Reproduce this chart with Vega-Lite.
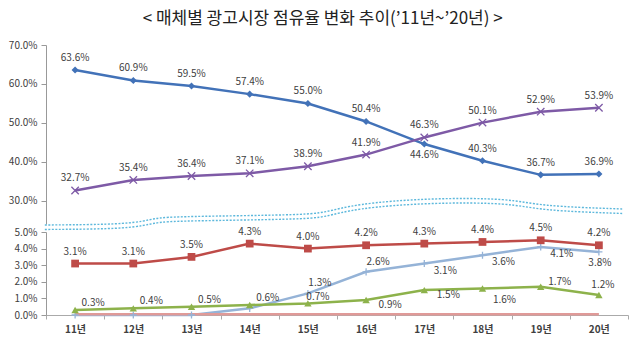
{
  "$schema": "https://vega.github.io/schema/vega-lite/v6.json",
  "background": "white",
  "padding": {"left": 8, "right": 6, "top": 10, "bottom": 4},
  "title": {
    "text": "< 매체별 광고시장 점유율 변화 추이(’11년~’20년) >",
    "font": "Noto Sans CJK KR",
    "fontSize": 17,
    "fontWeight": "normal",
    "color": "#222222",
    "anchor": "middle",
    "dx": -10,
    "offset": 12
  },
  "config": {
    "view": {"stroke": null},
    "axis": {
      "labelFont": "Noto Sans CJK KR",
      "labelFontSize": 10,
      "labelColor": "#404040",
      "domainColor": "#999999",
      "tickColor": "#999999",
      "grid": false,
      "title": null
    },
    "text": {"font": "Noto Sans CJK KR", "fontSize": 10, "color": "#404040"}
  },
  "bounds": "flush",
  "spacing": 8,
  "datasets": {
    "s": [
      {"year": 11, "series": "b", "value": 63.6}, {"year": 12, "series": "b", "value": 60.9}, {"year": 13, "series": "b", "value": 59.5}, {"year": 14, "series": "b", "value": 57.4}, {"year": 15, "series": "b", "value": 55.0},
      {"year": 16, "series": "b", "value": 50.4}, {"year": 17, "series": "b", "value": 44.6}, {"year": 18, "series": "b", "value": 40.3}, {"year": 19, "series": "b", "value": 36.7}, {"year": 20, "series": "b", "value": 36.9},
      {"year": 11, "series": "p", "value": 32.7}, {"year": 12, "series": "p", "value": 35.4}, {"year": 13, "series": "p", "value": 36.4}, {"year": 14, "series": "p", "value": 37.1}, {"year": 15, "series": "p", "value": 38.9},
      {"year": 16, "series": "p", "value": 41.9}, {"year": 17, "series": "p", "value": 46.3}, {"year": 18, "series": "p", "value": 50.1}, {"year": 19, "series": "p", "value": 52.9}, {"year": 20, "series": "p", "value": 53.9},
      {"year": 11, "series": "r", "value": 3.1}, {"year": 12, "series": "r", "value": 3.1}, {"year": 13, "series": "r", "value": 3.5}, {"year": 14, "series": "r", "value": 4.3}, {"year": 15, "series": "r", "value": 4.0},
      {"year": 16, "series": "r", "value": 4.2}, {"year": 17, "series": "r", "value": 4.3}, {"year": 18, "series": "r", "value": 4.4}, {"year": 19, "series": "r", "value": 4.5}, {"year": 20, "series": "r", "value": 4.2},
      {"year": 11, "series": "c", "value": 0.0}, {"year": 12, "series": "c", "value": 0.0}, {"year": 13, "series": "c", "value": 0.0}, {"year": 14, "series": "c", "value": 0.4}, {"year": 15, "series": "c", "value": 1.3},
      {"year": 16, "series": "c", "value": 2.6}, {"year": 17, "series": "c", "value": 3.1}, {"year": 18, "series": "c", "value": 3.6}, {"year": 19, "series": "c", "value": 4.1}, {"year": 20, "series": "c", "value": 3.8},
      {"year": 11, "series": "g", "value": 0.3}, {"year": 12, "series": "g", "value": 0.4}, {"year": 13, "series": "g", "value": 0.5}, {"year": 14, "series": "g", "value": 0.6}, {"year": 15, "series": "g", "value": 0.7},
      {"year": 16, "series": "g", "value": 0.9}, {"year": 17, "series": "g", "value": 1.5}, {"year": 18, "series": "g", "value": 1.6}, {"year": 19, "series": "g", "value": 1.7}, {"year": 20, "series": "g", "value": 1.2},
      {"year": 11, "series": "k", "value": 0.05}, {"year": 12, "series": "k", "value": 0.05}, {"year": 13, "series": "k", "value": 0.05}, {"year": 14, "series": "k", "value": 0.05}, {"year": 15, "series": "k", "value": 0.05},
      {"year": 16, "series": "k", "value": 0.05}, {"year": 17, "series": "k", "value": 0.05}, {"year": 18, "series": "k", "value": 0.05}, {"year": 19, "series": "k", "value": 0.05}, {"year": 20, "series": "k", "value": 0.05}
    ],
    "wave": [
      {"year": 10.48, "series": "w1", "value": 23.85}, {"year": 12.0, "series": "w1", "value": 24.0}, {"year": 12.35, "series": "w1", "value": 25.64}, {"year": 12.79, "series": "w1", "value": 26.03},
      {"year": 14.86, "series": "w1", "value": 26.41}, {"year": 15.3, "series": "w1", "value": 27.0}, {"year": 15.8, "series": "w1", "value": 29.23}, {"year": 17.09, "series": "w1", "value": 30.77},
      {"year": 18.5, "series": "w1", "value": 30.64}, {"year": 18.95, "series": "w1", "value": 28.72}, {"year": 20.4, "series": "w1", "value": 27.95},
      {"year": 10.48, "series": "w2", "value": 22.7}, {"year": 12.0, "series": "w2", "value": 22.85}, {"year": 12.35, "series": "w2", "value": 24.5}, {"year": 12.79, "series": "w2", "value": 24.9},
      {"year": 14.86, "series": "w2", "value": 25.3}, {"year": 15.3, "series": "w2", "value": 25.85}, {"year": 15.8, "series": "w2", "value": 28.1}, {"year": 17.09, "series": "w2", "value": 29.6},
      {"year": 18.5, "series": "w2", "value": 29.5}, {"year": 18.95, "series": "w2", "value": 27.6}, {"year": 20.4, "series": "w2", "value": 26.8}
    ]
  },
  "vconcat": [
    {
      "width": 582,
      "height": 179,
      "data": {"name": "s"},
      "encoding": {
        "x": {"field": "year", "type": "quantitative", "scale": {"domain": [10.5, 20.5], "nice": false, "zero": false}, "axis": null},
        "y": {
          "field": "value", "type": "quantitative",
          "scale": {"domain": [24.1, 70], "nice": false, "zero": false},
          "axis": {"values": [30, 40, 50, 60, 70], "labelExpr": "format(datum.value, '.1f') + '%'", "tickSize": 5, "labelPadding": 4, "title": null}
        }
      },
      "layer": [
        {
          "data": {"name": "wave"},
          "mark": {"type": "line", "interpolate": "basis", "strokeDash": [2, 1.5], "strokeWidth": 1.4, "color": "#5DB8DC", "clip": false},
          "encoding": {"detail": {"field": "series"}}
        },
        {
          "transform": [{"filter": "datum.series == 'b' || datum.series == 'p'"}],
          "mark": {"type": "line", "strokeWidth": 2.5},
          "encoding": {
            "color": {"field": "series", "type": "nominal", "scale": {"domain": ["b", "p", "r", "c", "g", "k"], "range": ["#4272B8", "#7E5AA6", "#BE4B48", "#95B3D7", "#8DB24B", "#E09A98"]}, "legend": null}
          }
        },
        {
          "transform": [{"filter": "datum.series == 'b'"}],
          "mark": {"type": "point", "filled": true, "shape": "diamond", "size": 50, "opacity": 1, "color": "#4272B8"}
        },
        {
          "transform": [{"filter": "datum.series == 'p'"}],
          "mark": {"type": "point", "filled": false, "shape": "M-1,-1L1,1M-1,1L1,-1", "size": 55, "strokeWidth": 1.3, "opacity": 1, "color": "#7E5AA6"}
        },
        {
          "transform": [{"filter": "datum.series == 'p' || (datum.series == 'b' && datum.year != 17)"}, {"calculate": "format(datum.value, '.1f') + '%'", "as": "label"}],
          "mark": {"type": "text", "dy": -12},
          "encoding": {"text": {"field": "label"}}
        },
        {
          "transform": [{"filter": "datum.series == 'b' && datum.year == 17"}, {"calculate": "format(datum.value, '.1f') + '%'", "as": "label"}],
          "mark": {"type": "text", "dy": 11},
          "encoding": {"text": {"field": "label"}}
        }
      ]
    },
    {
      "width": 582,
      "height": 83,
      "data": {"name": "s"},
      "encoding": {
        "x": {
          "field": "year", "type": "quantitative",
          "scale": {"domain": [10.5, 20.5], "nice": false, "zero": false},
          "axis": {
            "values": [10.5, 11.5, 12.5, 13.5, 14.5, 15.5, 16.5, 17.5, 18.5, 19.5, 20.5],
            "labelExpr": "datum.value > 20 ? '' : format(datum.value + 0.5, 'd') + '년'",
            "labelOffset": 29, "labelFlush": false, "labelOverlap": false,
            "labelFontWeight": "bold", "labelPadding": 5, "tickSize": 4,
            "domainColor": "#AAAAAA", "tickColor": "#AAAAAA", "title": null
          }
        },
        "y": {
          "field": "value", "type": "quantitative",
          "scale": {"domain": [0, 5], "nice": false, "zero": false},
          "axis": {"values": [0, 1, 2, 3, 4, 5], "labelExpr": "format(datum.value, '.1f') + '%'", "tickSize": 5, "labelPadding": 4, "title": null}
        }
      },
      "layer": [
        {
          "transform": [{"filter": "datum.series == 'c' || datum.series == 'g' || datum.series == 'k' || datum.series == 'r'"}],
          "mark": {"type": "line", "strokeWidth": 2.5},
          "encoding": {
            "color": {"field": "series", "type": "nominal", "scale": {"domain": ["b", "p", "r", "c", "g", "k"], "range": ["#4272B8", "#7E5AA6", "#BE4B48", "#95B3D7", "#8DB24B", "#E09A98"]}, "legend": null},
            "order": {"field": "series"}
          }
        },
        {
          "transform": [{"filter": "datum.series == 'c'"}],
          "mark": {"type": "point", "filled": false, "shape": "M0,-1L0,1M-1,0L1,0", "size": 50, "strokeWidth": 1.3, "opacity": 1, "color": "#95B3D7"}
        },
        {
          "transform": [{"filter": "datum.series == 'r'"}],
          "mark": {"type": "point", "filled": true, "shape": "square", "size": 60, "opacity": 1, "color": "#BE4B48"}
        },
        {
          "transform": [{"filter": "datum.series == 'g'"}],
          "mark": {"type": "point", "filled": true, "shape": "triangle-up", "size": 55, "opacity": 1, "color": "#8DB24B"}
        },
        {
          "transform": [{"filter": "datum.series == 'r'"}, {"calculate": "format(datum.value, '.1f') + '%'", "as": "label"}],
          "mark": {"type": "text", "dy": -12},
          "encoding": {"text": {"field": "label"}}
        },
        {
          "transform": [{"filter": "datum.series == 'c' && (datum.year == 15 || datum.year == 16)"}, {"calculate": "format(datum.value, '.1f') + '%'", "as": "label"}],
          "mark": {"type": "text", "dx": 12, "dy": -10},
          "encoding": {"text": {"field": "label"}}
        },
        {
          "transform": [{"filter": "datum.series == 'c' && datum.year >= 17 && datum.year <= 19"}, {"calculate": "format(datum.value, '.1f') + '%'", "as": "label"}],
          "mark": {"type": "text", "dx": 21, "dy": 7},
          "encoding": {"text": {"field": "label"}}
        },
        {
          "transform": [{"filter": "datum.series == 'c' && datum.year == 20"}, {"calculate": "format(datum.value, '.1f') + '%'", "as": "label"}],
          "mark": {"type": "text", "dx": 1, "dy": 11},
          "encoding": {"text": {"field": "label"}}
        },
        {
          "transform": [{"filter": "datum.series == 'g' && datum.year <= 14"}, {"calculate": "format(datum.value, '.1f') + '%'", "as": "label"}],
          "mark": {"type": "text", "dx": 18, "dy": -7},
          "encoding": {"text": {"field": "label"}}
        },
        {
          "transform": [{"filter": "datum.series == 'g' && datum.year == 15"}, {"calculate": "format(datum.value, '.1f') + '%'", "as": "label"}],
          "mark": {"type": "text", "dx": 10, "dy": -6},
          "encoding": {"text": {"field": "label"}}
        },
        {
          "transform": [{"filter": "datum.series == 'g' && (datum.year == 16 || datum.year == 17)"}, {"calculate": "format(datum.value, '.1f') + '%'", "as": "label"}],
          "mark": {"type": "text", "dx": 24, "dy": 5},
          "encoding": {"text": {"field": "label"}}
        },
        {
          "transform": [{"filter": "datum.series == 'g' && datum.year == 18"}, {"calculate": "format(datum.value, '.1f') + '%'", "as": "label"}],
          "mark": {"type": "text", "dx": 22, "dy": 12},
          "encoding": {"text": {"field": "label"}}
        },
        {
          "transform": [{"filter": "datum.series == 'g' && datum.year == 19"}, {"calculate": "format(datum.value, '.1f') + '%'", "as": "label"}],
          "mark": {"type": "text", "dx": 19, "dy": -5},
          "encoding": {"text": {"field": "label"}}
        },
        {
          "transform": [{"filter": "datum.series == 'g' && datum.year == 20"}, {"calculate": "format(datum.value, '.1f') + '%'", "as": "label"}],
          "mark": {"type": "text", "dx": 4, "dy": -10},
          "encoding": {"text": {"field": "label"}}
        }
      ]
    }
  ]
}
